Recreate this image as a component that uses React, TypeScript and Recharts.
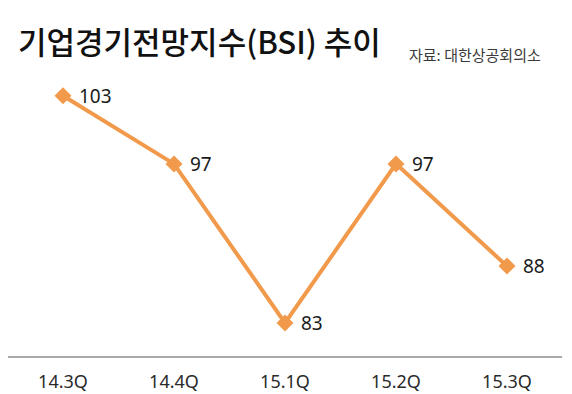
import { LineChart, Line, XAxis, YAxis, LabelList } from 'recharts'

const quarters = ['14.3Q', '14.4Q', '15.1Q', '15.2Q', '15.3Q']
const bsiValues = [103, 97, 83, 97, 88]

const data = quarters.map((q, i) => ({ quarter: q, bsi: bsiValues[i] }))

const LINE_COLOR = '#F29A4C'
const KR_FONT = '"Noto Sans CJK KR", "Noto Sans", sans-serif'
const NUM_FONT = '"Noto Sans", "Open Sans", sans-serif'

function Diamond(props: any) {
  const { cx, cy } = props
  if (cx == null || cy == null) return null
  const r = 8.5
  return (
    <path
      d={`M${cx},${cy - r} L${cx + r},${cy} L${cx},${cy + r} L${cx - r},${cy} Z`}
      fill={LINE_COLOR}
    />
  )
}

function ValueLabel(props: any) {
  const { x, y, value } = props
  return (
    <text
      x={x + 16}
      y={y}
      dy="0.36em"
      fontSize={19}
      fontFamily={NUM_FONT}
      fill="#1a1a1a"
    >
      {value}
    </text>
  )
}

function QuarterTick(props: any) {
  const { x, y, payload } = props
  return (
    <text
      x={x}
      y={y + 23}
      textAnchor="middle"
      fontSize={18}
      fontFamily={NUM_FONT}
      fill="#2a2a2a"
    >
      {payload.value}
    </text>
  )
}

export default function App() {
  return (
    <div
      style={{
        position: 'absolute',
        left: 0,
        top: 0,
        width: 572,
        height: 394,
        background: '#fff',
      }}
    >
      <svg
        width={572}
        height={80}
        style={{ position: 'absolute', left: 0, top: 0 }}
      >
        <text
          x={18}
          y={54}
          fontSize={31}
          fontWeight={500}
          fontFamily={KR_FONT}
          fill="#111"
        >
          기업경기전망지수(BSI) 추이
        </text>
        <text
          x={409}
          y={61}
          fontSize={15}
          fontFamily={KR_FONT}
          fill="#3a3a3a"
        >
          자료: 대한상공회의소
        </text>
      </svg>
      <div style={{ position: 'absolute', left: 0, top: 0 }}>
        <LineChart
          width={572}
          height={394}
          data={data}
          margin={{ top: 73, right: 10, bottom: 7, left: 8 }}
        >
          <XAxis
            dataKey="quarter"
            axisLine={{ stroke: '#8c8c8c', strokeWidth: 1.5 }}
            tickLine={false}
            tick={<QuarterTick />}
            height={30}
            interval={0}
            padding={{ left: 55, right: 55 }}
          />
          <YAxis hide domain={[80, 105]} />
          <Line
            type="linear"
            dataKey="bsi"
            stroke={LINE_COLOR}
            strokeWidth={4}
            dot={<Diamond />}
            activeDot={false}
            isAnimationActive={false}
          >
            <LabelList dataKey="bsi" content={<ValueLabel />} />
          </Line>
        </LineChart>
      </div>
    </div>
  )
}
